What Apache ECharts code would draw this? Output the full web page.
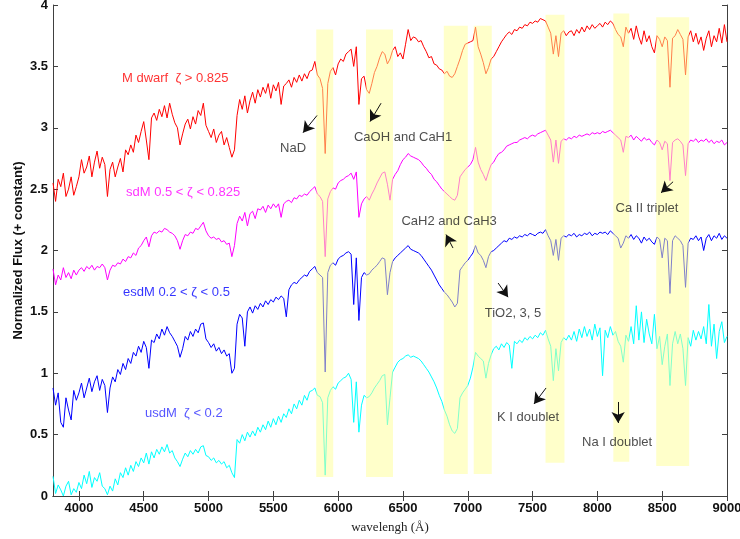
<!DOCTYPE html>
<html>
<head>
<meta charset="utf-8">
<script src="https://cdn.jsdelivr.net/npm/echarts@6/dist/echarts.min.js"></script>
<style>
  html, body { margin: 0; padding: 0; background: #fff; }
  #chart { width: 740px; height: 539px; }
</style>
</head>
<body>
<div id="chart"></div>
<script>
// wavelength grid (Angstrom)
const wavelength = [
  3800,3820,3840,3860,3880,3900,3920,3940,3960,3980,
  4000,4020,4040,4060,4080,4100,4120,4140,4160,4180,
  4200,4220,4240,4260,4280,4300,4320,4340,4360,4380,
  4400,4420,4440,4460,4480,4500,4520,4540,4560,4580,
  4600,4620,4640,4660,4680,4700,4720,4740,4760,4780,
  4800,4820,4840,4860,4880,4900,4920,4940,4960,4980,
  5000,5020,5040,5060,5080,5100,5120,5140,5160,5180,
  5200,5220,5240,5260,5280,5300,5320,5340,5360,5380,
  5400,5420,5440,5460,5480,5500,5520,5540,5560,5580,
  5600,5620,5640,5660,5680,5700,5720,5740,5760,5780,
  5800,5820,5840,5860,5880,5900,5920,5940,5960,5980,
  6000,6020,6040,6060,6080,6100,6120,6140,6160,6180,
  6200,6220,6240,6260,6280,6300,6320,6340,6360,6380,
  6400,6420,6440,6460,6480,6500,6520,6540,6560,6580,
  6600,6620,6640,6660,6680,6700,6720,6740,6760,6780,
  6800,6820,6840,6860,6880,6900,6920,6940,6960,6980,
  7000,7020,7040,7060,7080,7100,7120,7140,7160,7180,
  7200,7220,7240,7260,7280,7300,7320,7340,7360,7380,
  7400,7420,7440,7460,7480,7500,7520,7540,7560,7580,
  7600,7620,7640,7660,7680,7700,7720,7740,7760,7780,
  7800,7820,7840,7860,7880,7900,7920,7940,7960,7980,
  8000,8020,8040,8060,8080,8100,8120,8140,8160,8180,
  8200,8220,8240,8260,8280,8300,8320,8340,8360,8380,
  8400,8420,8440,8460,8480,8500,8520,8540,8560,8580,
  8600,8620,8640,8660,8680,8700,8720,8740,8760,8780,
  8800,8820,8840,8860,8880,8900,8920,8940,8960,8980,
  9000
];

// M dwarf, zeta > 0.825
const fluxDwarf = [
  2.55,2.40,2.58,2.52,2.63,2.44,2.50,2.60,2.45,2.52,
  2.60,2.74,2.63,2.68,2.77,2.60,2.72,2.81,2.67,2.76,
  2.70,2.44,2.66,2.72,2.60,2.68,2.75,2.64,2.82,2.78,
  2.86,2.80,2.94,2.88,2.97,3.05,2.90,2.74,3.08,3.12,
  3.06,3.15,3.09,3.18,3.08,3.20,3.11,3.04,3.00,2.86,
  2.95,3.03,3.07,2.99,3.09,3.03,3.14,3.10,3.20,3.02,
  2.97,2.92,2.99,2.88,2.94,2.97,2.86,2.92,2.84,2.76,
  2.82,3.10,3.23,3.15,3.26,3.12,3.22,3.29,3.20,3.31,
  3.25,3.33,3.28,3.36,3.24,3.35,3.30,3.37,3.19,3.34,
  3.36,3.39,3.33,3.41,3.37,3.43,3.38,3.44,3.40,3.46,
  3.47,3.54,3.43,3.40,3.32,2.79,3.36,3.46,3.49,3.43,
  3.52,3.56,3.54,3.60,3.62,3.64,3.50,3.66,3.19,3.40,
  3.42,3.31,3.28,3.36,3.45,3.50,3.57,3.62,3.60,3.52,
  3.56,3.63,3.66,3.58,3.61,3.56,3.68,3.80,3.71,3.74,
  3.73,3.70,3.71,3.66,3.62,3.57,3.58,3.52,3.51,3.48,
  3.47,3.44,3.46,3.42,3.41,3.44,3.50,3.56,3.63,3.68,
  3.69,3.70,3.71,3.82,3.66,3.60,3.53,3.44,3.49,3.56,
  3.58,3.62,3.66,3.70,3.73,3.76,3.78,3.76,3.80,3.79,
  3.82,3.81,3.84,3.83,3.86,3.85,3.87,3.86,3.89,3.88,
  3.87,3.82,3.77,3.60,3.75,3.58,3.77,3.79,3.75,3.78,
  3.79,3.75,3.80,3.77,3.82,3.78,3.83,3.80,3.84,3.81,
  3.83,3.85,3.82,3.86,3.84,3.87,3.85,3.80,3.76,3.74,
  3.66,3.82,3.77,3.81,3.72,3.83,3.74,3.68,3.79,3.70,
  3.75,3.66,3.61,3.75,3.72,3.66,3.74,3.71,3.33,3.73,
  3.75,3.80,3.76,3.72,3.43,3.74,3.79,3.70,3.77,3.68,
  3.74,3.63,3.73,3.79,3.66,3.75,3.70,3.81,3.69,3.84,
  3.70
];

// sdM, 0.5 < zeta < 0.825
const fluxSdM = [
  1.85,1.72,1.80,1.76,1.86,1.78,1.82,1.77,1.84,1.80,
  1.84,1.86,1.83,1.87,1.85,1.88,1.84,1.87,1.86,1.89,
  1.86,1.76,1.84,1.88,1.87,1.90,1.89,1.93,1.91,1.95,
  1.94,1.98,1.96,2.02,2.04,2.08,2.11,2.03,2.12,2.15,
  2.14,2.16,2.15,2.18,2.17,2.15,2.14,2.12,2.08,2.01,
  2.08,2.13,2.12,2.15,2.14,2.18,2.17,2.20,2.23,2.16,
  2.12,2.10,2.11,2.09,2.10,2.07,2.08,2.05,2.06,1.95,
  2.04,2.22,2.28,2.24,2.31,2.20,2.30,2.32,2.26,2.34,
  2.33,2.36,2.31,2.37,2.34,2.38,2.35,2.38,2.27,2.38,
  2.40,2.41,2.39,2.43,2.42,2.45,2.44,2.46,2.45,2.48,
  2.50,2.52,2.46,2.44,2.40,1.95,2.42,2.48,2.51,2.50,
  2.55,2.57,2.58,2.60,2.61,2.63,2.58,2.64,2.27,2.38,
  2.42,2.44,2.41,2.46,2.50,2.55,2.59,2.63,2.64,2.54,
  2.41,2.58,2.62,2.65,2.70,2.74,2.76,2.79,2.77,2.76,
  2.75,2.74,2.72,2.69,2.67,2.64,2.62,2.58,2.56,2.53,
  2.50,2.48,2.46,2.44,2.42,2.41,2.45,2.60,2.63,2.66,
  2.68,2.70,2.74,2.84,2.72,2.66,2.62,2.57,2.64,2.70,
  2.72,2.76,2.79,2.80,2.82,2.85,2.86,2.87,2.88,2.88,
  2.90,2.91,2.92,2.91,2.93,2.94,2.93,2.95,2.96,2.97,
  2.98,2.94,2.90,2.72,2.90,2.71,2.89,2.91,2.90,2.92,
  2.91,2.93,2.92,2.94,2.93,2.94,2.95,2.94,2.96,2.95,
  2.96,2.95,2.97,2.96,2.97,2.98,2.96,2.94,2.92,2.90,
  2.80,2.93,2.92,2.94,2.90,2.93,2.91,2.89,2.92,2.90,
  2.91,2.88,2.86,2.90,2.88,2.82,2.89,2.87,2.57,2.88,
  2.90,2.91,2.89,2.86,2.61,2.87,2.90,2.89,2.91,2.88,
  2.90,2.89,2.91,2.88,2.90,2.87,2.89,2.88,2.90,2.86,
  2.88
];

// esdM, 0.2 < zeta < 0.5
const fluxEsdM = [
  0.88,0.74,0.84,0.60,0.56,0.80,0.70,0.62,0.86,0.78,
  0.84,0.92,0.80,0.88,0.96,0.85,0.93,0.98,0.86,0.95,
  0.90,0.68,0.88,0.97,0.93,1.03,0.99,1.08,1.03,1.12,
  1.08,1.17,1.14,1.22,1.17,1.26,1.21,1.04,1.27,1.25,
  1.32,1.28,1.36,1.31,1.38,1.33,1.30,1.26,1.22,1.13,
  1.20,1.30,1.27,1.34,1.30,1.36,1.33,1.40,1.41,1.28,
  1.25,1.21,1.24,1.18,1.21,1.16,1.19,1.14,1.16,1.00,
  1.04,1.40,1.48,1.45,1.22,1.50,1.54,1.49,1.55,1.52,
  1.57,1.54,1.59,1.56,1.60,1.58,1.62,1.60,1.63,1.61,
  1.46,1.68,1.72,1.74,1.73,1.76,1.78,1.80,1.79,1.83,
  1.85,1.87,1.82,1.80,1.78,1.01,1.82,1.88,1.90,1.88,
  1.93,1.95,1.96,1.98,1.99,1.97,1.56,1.94,1.43,1.78,
  1.82,1.80,1.81,1.84,1.86,1.88,1.91,1.94,1.93,1.64,
  1.82,1.91,1.94,1.96,1.98,2.00,2.02,2.04,2.01,2.00,
  1.99,1.98,1.96,1.93,1.90,1.87,1.84,1.80,1.76,1.72,
  1.69,1.66,1.64,1.61,1.58,1.54,1.57,1.84,1.87,1.90,
  1.92,1.95,1.98,2.04,1.98,1.96,1.92,1.86,1.95,1.99,
  2.00,2.02,2.04,2.06,2.08,2.07,2.10,2.09,2.11,2.10,
  2.12,2.11,2.13,2.12,2.14,2.13,2.12,2.14,2.15,2.14,
  2.17,2.12,2.08,1.96,2.09,1.92,2.10,2.12,2.11,2.13,
  2.12,2.14,2.11,2.13,2.12,2.14,2.13,2.15,2.12,2.14,
  2.13,2.15,2.14,2.15,2.13,2.16,2.14,2.12,2.10,2.02,
  2.06,2.12,2.10,2.13,2.09,2.12,2.10,2.06,2.11,2.08,
  2.10,2.07,2.05,2.11,2.09,1.94,2.10,2.08,1.65,2.08,
  2.12,2.10,2.08,2.04,1.70,2.06,2.10,2.09,2.12,2.08,
  2.11,2.00,2.10,2.13,2.08,2.12,2.10,2.14,2.09,2.12,
  2.10
];

// usdM, zeta < 0.2
const fluxUsdM = [
  0.16,0.02,0.09,0.05,0.00,0.08,0.12,0.01,0.06,0.03,
  0.11,0.06,0.17,0.10,0.20,0.07,0.15,0.12,0.19,0.08,
  0.06,0.01,0.08,0.04,0.14,0.09,0.19,0.15,0.23,0.17,
  0.25,0.20,0.28,0.24,0.31,0.27,0.35,0.26,0.36,0.31,
  0.38,0.34,0.40,0.36,0.42,0.35,0.37,0.31,0.28,0.24,
  0.30,0.35,0.32,0.37,0.34,0.38,0.35,0.40,0.41,0.33,
  0.32,0.29,0.31,0.27,0.29,0.26,0.28,0.23,0.25,0.19,
  0.15,0.46,0.43,0.50,0.45,0.52,0.48,0.53,0.49,0.56,
  0.52,0.58,0.54,0.61,0.56,0.63,0.58,0.65,0.60,0.67,
  0.64,0.71,0.67,0.75,0.71,0.78,0.74,0.82,0.78,0.85,
  0.86,0.88,0.82,0.81,0.76,0.17,0.80,0.86,0.89,0.87,
  0.92,0.94,0.96,0.97,1.00,0.95,0.60,0.93,0.52,0.74,
  0.82,0.80,0.81,0.84,0.88,0.91,0.94,0.98,0.99,0.58,
  0.80,1.01,1.05,1.09,1.11,1.12,1.14,1.15,1.13,1.14,
  1.13,1.12,1.10,1.07,1.04,1.01,0.97,0.93,0.88,0.82,
  0.77,0.70,0.65,0.58,0.53,0.51,0.55,0.80,0.84,0.87,
  0.90,0.96,1.05,1.17,1.14,1.12,1.10,0.96,1.08,1.15,
  1.20,1.22,1.19,1.24,1.21,1.25,1.23,1.04,1.26,1.24,
  1.27,1.25,1.29,1.27,1.30,1.28,1.31,1.29,1.33,1.31,
  1.35,1.28,1.22,0.94,1.20,1.02,1.25,1.29,1.27,1.31,
  1.27,1.34,1.26,1.36,1.29,1.38,1.30,1.36,1.27,1.40,
  1.30,1.37,0.98,1.35,1.29,1.38,1.31,1.34,1.26,1.22,
  1.09,1.31,1.26,1.38,1.24,1.55,1.27,1.50,1.25,1.44,
  1.32,1.24,1.48,1.20,1.30,1.07,1.22,1.32,0.90,1.24,
  1.34,1.24,1.32,1.20,0.90,1.29,1.22,1.35,1.27,1.34,
  1.28,1.38,1.24,1.56,1.22,1.40,1.12,1.34,1.42,1.25,
  1.30
];

// highlighted feature bands: [start, end, top, bottom]
const bands = [
  [5831, 5962, 3.80, 0.155],
  [6215, 6423, 3.80, 0.155],
  [6815, 7000, 3.83, 0.18],
  [7046, 7185, 3.83, 0.18],
  [7600, 7746, 3.92, 0.27],
  [8123, 8246, 3.93, 0.28],
  [8454, 8708, 3.90, 0.245]
];

// feature annotations: text, text position, arrow from, arrow to
const featureNames = ["NaD", "CaOH and CaH1", "CaH2 and CaH3", "TiO2, 3, 5", "K I doublet", "Na I doublet", "Ca II triplet"];
const featureText = [[5652, 2.835], [6501, 2.925], [6856, 2.24], [7349, 1.49], [7465, 0.644], [8152, 0.44], [8383, 2.34]];
const arrowFrom = [[5837, 3.10], [6331, 3.20], [6886, 2.02], [7234, 1.735], [7604, 0.88], [8160, 0.766], [8584, 2.56]];
const arrowTo = [[5729, 2.96], [6246, 3.05], [6832, 2.13], [7311, 1.62], [7511, 0.75], [8160, 0.595], [8491, 2.47]];

const classNames = ["M dwarf  \u03b6 > 0.825", "sdM 0.5 < \u03b6 < 0.825", "esdM 0.2 < \u03b6 < 0.5", "usdM  \u03b6 < 0.2"];
const classPos = [[4332, 3.40], [4363, 2.47], [4340, 1.66], [4510, 0.676]];
const classColors = ["#ff0000", "#ff00ff", "#0000ff", "#2a2aff"];

const xTicks = [4000, 4500, 5000, 5500, 6000, 6500, 7000, 7500, 8000, 8500, 9000];

const chart = echarts.init(document.getElementById("chart"));

const pair = (flux) => wavelength.map((w, i) => [w, flux[i]]);
const spectrum = (name, flux, color) => ({
  name: name,
  type: "line",
  data: pair(flux),
  showSymbol: false,
  symbol: "none",
  lineStyle: { color: color, width: 1 },
  z: 2,
  silent: true
});

const axisColor = "#404040";
const sans = "'Liberation Sans', Arial, sans-serif";

const option = {
  animation: false,
  backgroundColor: "#fff",
  grid: { left: 53, right: 13, top: 5, bottom: 43, containLabel: false, outerBoundsMode: "none" },
  xAxis: [
    {
      type: "value",
      min: 3800,
      max: 9000,
      name: "wavelengh (\u00c5)",
      nameLocation: "middle",
      nameGap: 25,
      nameTextStyle: { fontFamily: "'Liberation Serif', 'Times New Roman', serif", fontSize: 13, color: "#222" },
      axisLine: { lineStyle: { color: axisColor, width: 1 } },
      axisTick: { inside: true, length: 5, customValues: xTicks, lineStyle: { color: axisColor } },
      axisLabel: {
        customValues: xTicks,
        formatter: (v) => String(v),
        fontFamily: sans, fontWeight: "bold", fontSize: 13, color: "#111", margin: 6
      },
      splitLine: { show: false }
    },
    {
      type: "value",
      position: "top",
      min: 3800,
      max: 9000,
      axisLine: { lineStyle: { color: axisColor, width: 1 } },
      axisTick: { inside: true, length: 5, customValues: xTicks, lineStyle: { color: axisColor } },
      axisLabel: { show: false },
      splitLine: { show: false }
    }
  ],
  yAxis: [
    {
      type: "value",
      min: 0,
      max: 4,
      interval: 0.5,
      name: "Normalized Flux (+ constant)",
      nameLocation: "middle",
      nameGap: 28,
      nameMoveOverlap: false,
      nameTextStyle: { fontFamily: sans, fontWeight: "bold", fontSize: 13, color: "#111" },
      axisLine: { show: true, lineStyle: { color: axisColor, width: 1 } },
      axisTick: { show: true, inside: true, length: 5, lineStyle: { color: axisColor } },
      axisLabel: { fontFamily: sans, fontWeight: "bold", fontSize: 13, color: "#111", margin: 5 },
      splitLine: { show: false }
    },
    {
      type: "value",
      position: "right",
      min: 0,
      max: 4,
      interval: 0.5,
      axisLine: { show: true, lineStyle: { color: axisColor, width: 1 } },
      axisTick: { show: true, inside: true, length: 5, lineStyle: { color: axisColor } },
      axisLabel: { show: false },
      splitLine: { show: false }
    }
  ],
  series: [
    spectrum("M dwarf", fluxDwarf, "#ff0000"),
    spectrum("sdM", fluxSdM, "#ff00ff"),
    spectrum("esdM", fluxEsdM, "#0000ff"),
    spectrum("usdM", fluxUsdM, "#00ffff"),
    {
      // translucent yellow bands over the spectra
      type: "custom",
      silent: true,
      z: 10,
      data: bands,
      encode: { x: [0, 1], y: [2, 3] },
      renderItem: function (params, api) {
        const p1 = api.coord([api.value(0), api.value(2)]);
        const p2 = api.coord([api.value(1), api.value(3)]);
        return {
          type: "rect",
          shape: { x: p1[0], y: p1[1], width: p2[0] - p1[0], height: p2[1] - p1[1] },
          style: { fill: "rgba(255,255,150,0.5)" }
        };
      }
    },
    {
      // arrows
      type: "line",
      data: [],
      silent: true,
      z: 20,
      markLine: {
        z: 20,
        silent: true,
        animation: false,
        symbol: ["none", "arrow"],
        symbolSize: [10, 11],
        label: { show: false },
        lineStyle: { color: "#111", width: 1, type: "solid", opacity: 1 },
        data: arrowFrom.map((f, i) => [{ coord: f }, { coord: arrowTo[i] }])
      }
    },
    {
      // feature labels
      type: "scatter",
      silent: true,
      z: 20,
      symbolSize: 0,
      data: featureText.map((p, i) => ({
        value: p,
        label: {
          show: true,
          position: "inside",
          formatter: featureNames[i],
          fontFamily: sans,
          fontSize: 13,
          color: "#222"
        }
      }))
    },
    {
      // class labels
      type: "scatter",
      silent: true,
      z: 20,
      symbolSize: 0,
      data: classPos.map((p, i) => ({
        value: p,
        label: {
          show: true,
          position: "right",
          distance: 0,
          formatter: classNames[i],
          fontFamily: sans,
          fontSize: 13,
          color: classColors[i]
        }
      }))
    }
  ]
};

chart.setOption(option);
</script>
</body>
</html>
